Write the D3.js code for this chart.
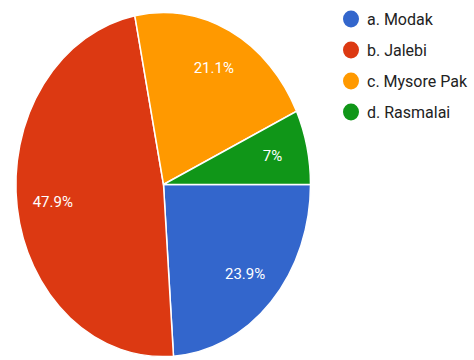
<!DOCTYPE html>
<html><head><meta charset="utf-8">
<script src="https://cdn.jsdelivr.net/npm/d3@7/dist/d3.min.js"></script>
<style>html,body{margin:0;padding:0;background:#fff;}</style>
</head><body>
<svg id="chart" width="474" height="360"></svg>
<script>
const categories = ["a. Modak", "b. Jalebi", "c. Mysore Pak", "d. Rasmalai"];
const values = [23.9, 47.9, 21.1, 7];
const labels = ["23.9%", "47.9%", "21.1%", "7%"];
const colors = ["#3366cc", "#dc3912", "#ff9900", "#109618"];

const svg = d3.select("#chart");
const cx = 163.5, cy = 184.5, rx = 147, ry = 172;

const pie = d3.pie().sort(null).value(d => d)
  .startAngle(Math.PI / 2).endAngle(Math.PI / 2 + 2 * Math.PI);
const arcs = pie(values);
const arc = d3.arc().innerRadius(0).outerRadius(1);
const labelArc = d3.arc().innerRadius(0.76).outerRadius(0.76);

const g = svg.append("g").attr("transform", `translate(${cx},${cy}) scale(${rx},${ry})`);
g.selectAll("path").data(arcs).join("path")
  .attr("d", arc)
  .attr("fill", (d, i) => colors[i])
  .attr("stroke", "#fff")
  .attr("stroke-width", 1.5)
  .attr("vector-effect", "non-scaling-stroke");

svg.append("g").attr("transform", `translate(${cx},${cy})`)
  .selectAll("text").data(arcs).join("text")
  .attr("x", d => labelArc.centroid(d)[0] * rx)
  .attr("y", d => labelArc.centroid(d)[1] * ry)
  .attr("text-anchor", "middle")
  .attr("dominant-baseline", "central")
  .attr("fill", "#fff")
  .attr("font-family", "Roboto, sans-serif")
  .attr("font-size", 15)
  .text((d, i) => labels[i]);

const legend = svg.append("g").attr("transform", "translate(351,19)");
const items = legend.selectAll("g").data(categories).join("g")
  .attr("transform", (d, i) => `translate(0,${i * 31})`);
items.append("ellipse").attr("rx", 8).attr("ry", 8.5)
  .attr("fill", (d, i) => colors[i]);
items.append("text").attr("x", 16).attr("y", 0)
  .attr("dominant-baseline", "central")
  .attr("fill", "#222")
  .attr("font-family", "Roboto, sans-serif")
  .attr("font-size", 16)
  .text(d => d);
</script>
</body></html>
